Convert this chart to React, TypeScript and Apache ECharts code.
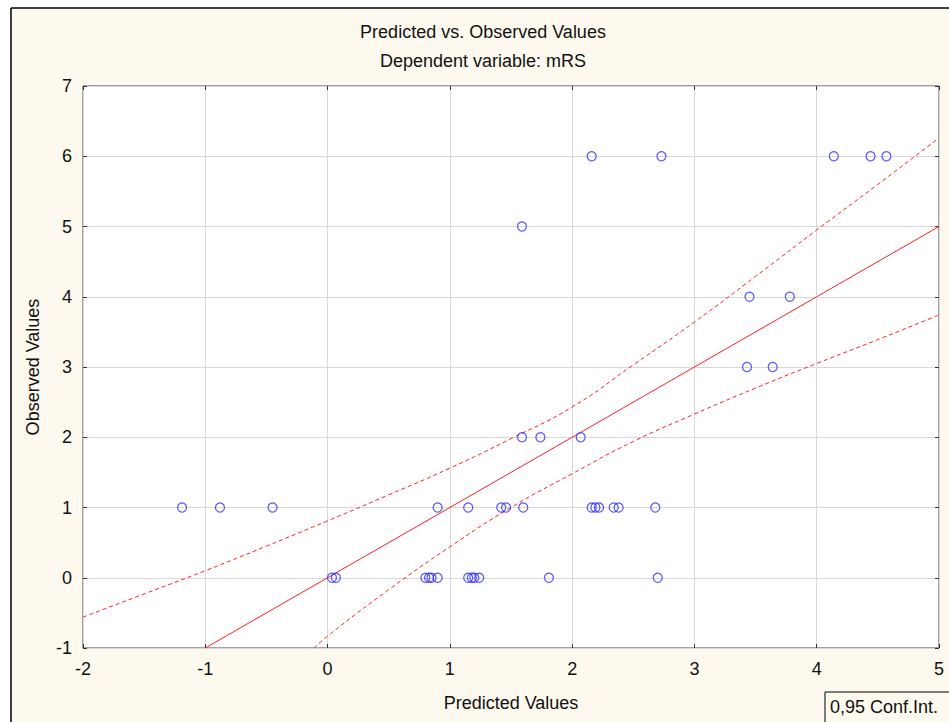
import React, { useEffect, useRef } from "react";
import * as echarts from "echarts";

// Observed vs predicted points
const predicted = [
  -1.19, -0.88, -0.45, 0.9, 1.15, 1.42, 1.46, 1.6, 2.16, 2.19, 2.22, 2.34, 2.38, 2.68,
  0.036, 0.068, 0.8, 0.83, 0.85, 0.9, 1.15, 1.18, 1.2, 1.24, 1.81, 2.7,
  1.59, 1.74, 2.07,
  3.43, 3.64,
  3.45, 3.78,
  1.59,
  2.16, 2.73, 4.14, 4.44, 4.57,
];
const observed = [
  1, 1, 1, 1, 1, 1, 1, 1, 1, 1, 1, 1, 1, 1,
  0, 0, 0, 0, 0, 0, 0, 0, 0, 0, 0, 0,
  2, 2, 2,
  3, 3,
  4, 4,
  5,
  6, 6, 6, 6, 6,
];

// Fitted line
const fitX = [-1, 5];
const fitY = [-1, 5];

// 0.95 confidence bands
const upperX = [-2, -1.5, -1, -0.5, 0, 0.5, 1, 1.5, 2, 2.5, 3, 3.5, 4, 4.5, 5];
const upperY = [-0.56, -0.23, 0.1, 0.45, 0.81, 1.18, 1.56, 1.98, 2.43, 3.03, 3.64, 4.29, 4.95, 5.6, 6.26];
const lowerX = [-0.11, 0, 0.5, 1, 1.5, 2, 2.5, 3, 3.5, 4, 4.5, 5];
const lowerY = [-1, -0.83, -0.17, 0.44, 1.0, 1.48, 1.94, 2.33, 2.7, 3.05, 3.39, 3.74];

const xTicks = [-2, 5, 1];
const yTicks = [-1, 7, 1];

const titleText = "Predicted vs. Observed Values";
const subtitleText = "Dependent variable: mRS";
const xName = "Predicted Values";
const yName = "Observed Values";
const legendText = "0,95 Conf.Int.";

const FONT = "'Liberation Sans', Arial, sans-serif";

export default function App() {
  const ref = useRef<HTMLDivElement>(null);
  useEffect(() => {
    document.body.style.margin = "0";
    const chart = echarts.init(ref.current!, undefined, { renderer: "svg" });
    const pts = predicted.map((x, i) => [x, observed[i]]);
    const fit = fitX.map((x, i) => [x, fitY[i]]);
    const up = upperX.map((x, i) => [x, upperY[i]]);
    const lo = lowerX.map((x, i) => [x, lowerY[i]]);
    const tickStyle = { show: true, inside: true, length: 4, lineStyle: { color: "#333" } };
    const noLine = { show: false, onZero: false };
    chart.setOption({
      animation: false,
      backgroundColor: "#fdf9ee",
      textStyle: { fontFamily: FONT },
      graphic: [
        { type: "rect", shape: { x: 0, y: 0, width: 949, height: 8 }, style: { fill: "#fff" } },
        { type: "rect", shape: { x: 0, y: 0, width: 11, height: 722 }, style: { fill: "#fff" } },
        { type: "line", shape: { x1: 11, y1: 8, x2: 949, y2: 8 }, style: { stroke: "#000", lineWidth: 1.5 } },
        { type: "line", shape: { x1: 11, y1: 8, x2: 11, y2: 722 }, style: { stroke: "#000", lineWidth: 1.5 } },
        { type: "text", x: 483, y: 32, style: { text: titleText, fontSize: 18, fontFamily: FONT, fill: "#111", align: "center", verticalAlign: "middle" } },
        { type: "text", x: 483, y: 61, style: { text: subtitleText, fontSize: 18, fontFamily: FONT, fill: "#111", align: "center", verticalAlign: "middle" } },
        { type: "rect", shape: { x: 825, y: 692, width: 130, height: 40 }, style: { fill: "none", stroke: "#000", lineWidth: 1 } },
        { type: "text", x: 830, y: 707, style: { text: legendText, fontSize: 18, fontFamily: FONT, fill: "#111", align: "left", verticalAlign: "middle" } },
      ],
      grid: {
        left: 83, top: 86, right: 10, bottom: 74,
        show: true, backgroundColor: "#fff", borderColor: "#444", borderWidth: 1,
      },
      xAxis: [
        {
          type: "value", min: xTicks[0], max: xTicks[1], interval: xTicks[2],
          name: xName, nameLocation: "middle", nameGap: 46,
          nameTextStyle: { fontSize: 18, color: "#111", fontFamily: FONT },
          axisLine: noLine,
          axisTick: tickStyle,
          axisLabel: { fontSize: 18, color: "#111", margin: 12, fontFamily: FONT },
          splitLine: { show: true, lineStyle: { color: "#d8d8d8", width: 1 } },
        },
        {
          type: "value", position: "top", min: xTicks[0], max: xTicks[1], interval: xTicks[2],
          axisLine: noLine, axisTick: tickStyle, axisLabel: { show: false }, splitLine: { show: false },
        },
      ],
      yAxis: [
        {
          type: "value", min: yTicks[0], max: yTicks[1], interval: yTicks[2],
          name: yName, nameLocation: "middle", nameGap: 41,
          nameTextStyle: { fontSize: 18, color: "#111", fontFamily: FONT },
          axisLine: noLine,
          axisTick: tickStyle,
          axisLabel: { fontSize: 18, color: "#111", margin: 11, fontFamily: FONT },
          splitLine: { show: true, lineStyle: { color: "#d8d8d8", width: 1 } },
        },
        {
          type: "value", position: "right", min: yTicks[0], max: yTicks[1], interval: yTicks[2],
          axisLine: noLine, axisTick: tickStyle, axisLabel: { show: false }, splitLine: { show: false },
        },
      ],
      series: [
        {
          type: "line", data: fit, showSymbol: false, symbol: "none",
          lineStyle: { color: "#ff2020", width: 1 }, z: 3,
        },
        {
          type: "line", data: up, showSymbol: false, symbol: "none", smooth: true,
          lineStyle: { color: "#ff2020", width: 1, type: [4, 3] }, z: 3,
        },
        {
          type: "line", data: lo, showSymbol: false, symbol: "none", smooth: true,
          lineStyle: { color: "#ff2020", width: 1, type: [4, 3] }, z: 3,
        },
        {
          type: "scatter", data: pts, symbol: "circle", symbolSize: 9,
          itemStyle: { color: "transparent", borderColor: "#2a2aff", borderWidth: 1.2 }, z: 4,
        },
      ],
    });
    return () => chart.dispose();
  }, []);
  return <div ref={ref} style={{ width: 949, height: 722 }} />;
}
